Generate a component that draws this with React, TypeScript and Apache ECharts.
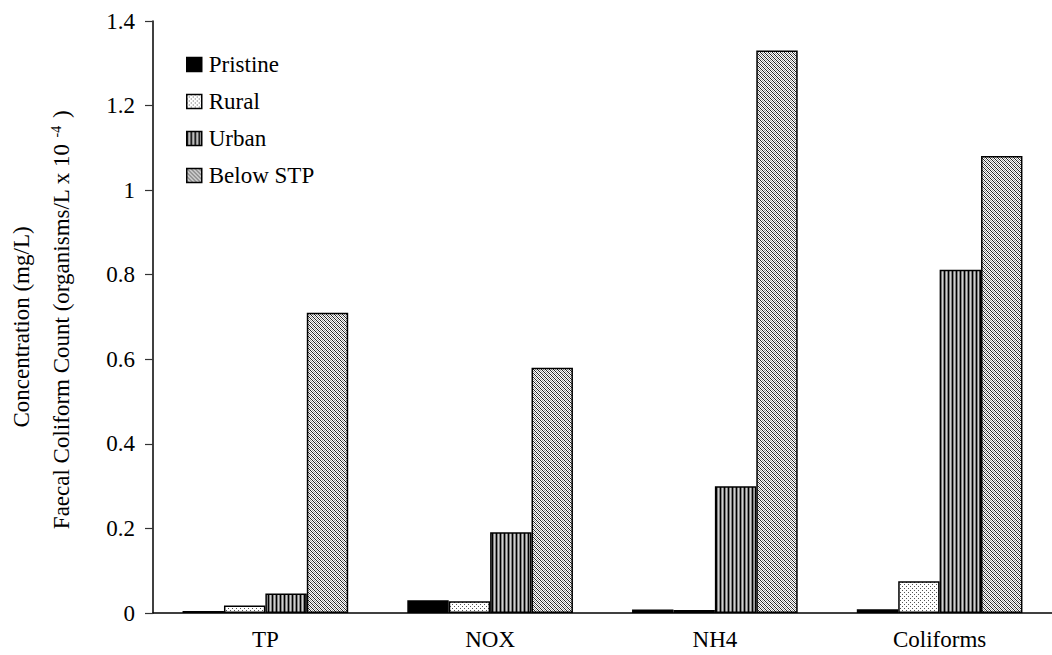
import React, { useEffect, useRef } from "react";
import * as echarts from "echarts";

const categories = ["TP", "NOX", "NH4", "Coliforms"];
const seriesNames = ["Pristine", "Rural", "Urban", "Below STP"];
const pristine = [0.005, 0.03, 0.008, 0.009];
const rural = [0.018, 0.028, 0.007, 0.075];
const urban = [0.046, 0.191, 0.3, 0.812];
const belowSTP = [0.71, 0.58, 1.33, 1.081];
const yTicks = { min: 0, max: 1.4, interval: 0.2 };
const yTitle1 = "Concentration (mg/L)";
const yTitle2a = "Faecal Coliform Count (organisms/L x 10";
const yTitle2sup = "-4";
const yTitle2b = " )";

const FONT = "'Liberation Serif', 'Times New Roman', serif";

function makePattern(kind: string): HTMLCanvasElement {
  const c = document.createElement("canvas");
  c.width = 4;
  c.height = 4;
  const ctx = c.getContext("2d")!;
  ctx.fillStyle = "#fff";
  ctx.fillRect(0, 0, 4, 4);
  for (let x = 0; x < 4; x++) {
    for (let y = 0; y < 4; y++) {
      let col: string | null = null;
      if (kind === "rural") {
        if ((x === 0 && y === 0) || (x === 2 && y === 2)) col = "#555";
      } else if (kind === "urban") {
        col = x === 0 ? "#000" : x === 2 ? "#d0d0d0" : "#808080";
      } else if (kind === "stp") {
        const d = (((x - y) % 4) + 4) % 4;
        if (d === 0) col = "#222";
        else if (d === 2) col = "#999";
      }
      if (col) {
        ctx.fillStyle = col;
        ctx.fillRect(x, y, 1, 1);
      }
    }
  }
  return c;
}

export default function App() {
  const ref = useRef<HTMLDivElement>(null);
  useEffect(() => {
    if (!ref.current) return;
    const chart = echarts.init(ref.current, null, { renderer: "svg" });
    const fills: any[] = [
      "#000000",
      { image: makePattern("rural"), repeat: "repeat" },
      { image: makePattern("urban"), repeat: "repeat" },
      { image: makePattern("stp"), repeat: "repeat" },
    ];
    const datasets = [pristine, rural, urban, belowSTP];
    chart.setOption({
      animation: false,
      backgroundColor: "#ffffff",
      textStyle: { fontFamily: FONT, color: "#000" },
      grid: { left: 153, top: 21, bottom: 42, right: -13, containLabel: false },
      legend: {
        orient: "vertical",
        left: 186,
        top: 53,
        padding: 0,
        itemWidth: 15,
        itemHeight: 14,
        itemGap: 14,
        icon: "rect",
        data: seriesNames,
        textStyle: { fontFamily: FONT, fontSize: 23, color: "#000", padding: [0, 0, 0, 2] },
        itemStyle: { borderColor: "#000", borderWidth: 1.5 },
      },
      xAxis: {
        type: "category",
        data: categories,
        axisLine: { lineStyle: { color: "#000", width: 1.5 } },
        axisTick: { length: 8, lineStyle: { color: "#000", width: 1.5 } },
        axisLabel: { fontFamily: FONT, fontSize: 23, color: "#000", margin: 15 },
      },
      yAxis: {
        type: "value",
        min: yTicks.min,
        max: yTicks.max,
        interval: yTicks.interval,
        axisLine: { show: true, lineStyle: { color: "#000", width: 1.5 } },
        axisTick: { show: true, length: 8, lineStyle: { color: "#333", width: 1.2 } },
        splitLine: { show: false },
        axisLabel: { fontFamily: FONT, fontSize: 23, color: "#000", margin: 18 },
      },
      series: seriesNames.map((name, i) => ({
        name,
        type: "bar",
        data: datasets[i],
        barGap: "0%",
        barCategoryGap: "26.3%",
        itemStyle: { color: fills[i], borderColor: "#000", borderWidth: 1.5 },
      })),
      graphic: [
        {
          type: "text",
          x: 21,
          y: 327,
          rotation: Math.PI / 2,
          style: {
            text: yTitle1,
            font: `23px ${FONT}`,
            fill: "#000",
            align: "center",
            verticalAlign: "middle",
          },
        },
        {
          type: "text",
          x: 61,
          y: 320,
          rotation: Math.PI / 2,
          style: {
            text: `{a|${yTitle2a}}{s|${yTitle2sup}}{a|${yTitle2b}}`,
            fill: "#000",
            align: "center",
            verticalAlign: "middle",
            rich: {
              a: { fontFamily: FONT, fontSize: 23, fill: "#000", verticalAlign: "bottom" },
              s: { fontFamily: FONT, fontSize: 14, fill: "#000", verticalAlign: "top", padding: [0, 2, 0, 6] },
            },
          },
        },
      ],
    });
    return () => chart.dispose();
  }, []);
  return (
    <div
      ref={ref}
      style={{ position: "absolute", left: 0, top: 0, width: 1052, height: 655, background: "#fff" }}
    />
  );
}
